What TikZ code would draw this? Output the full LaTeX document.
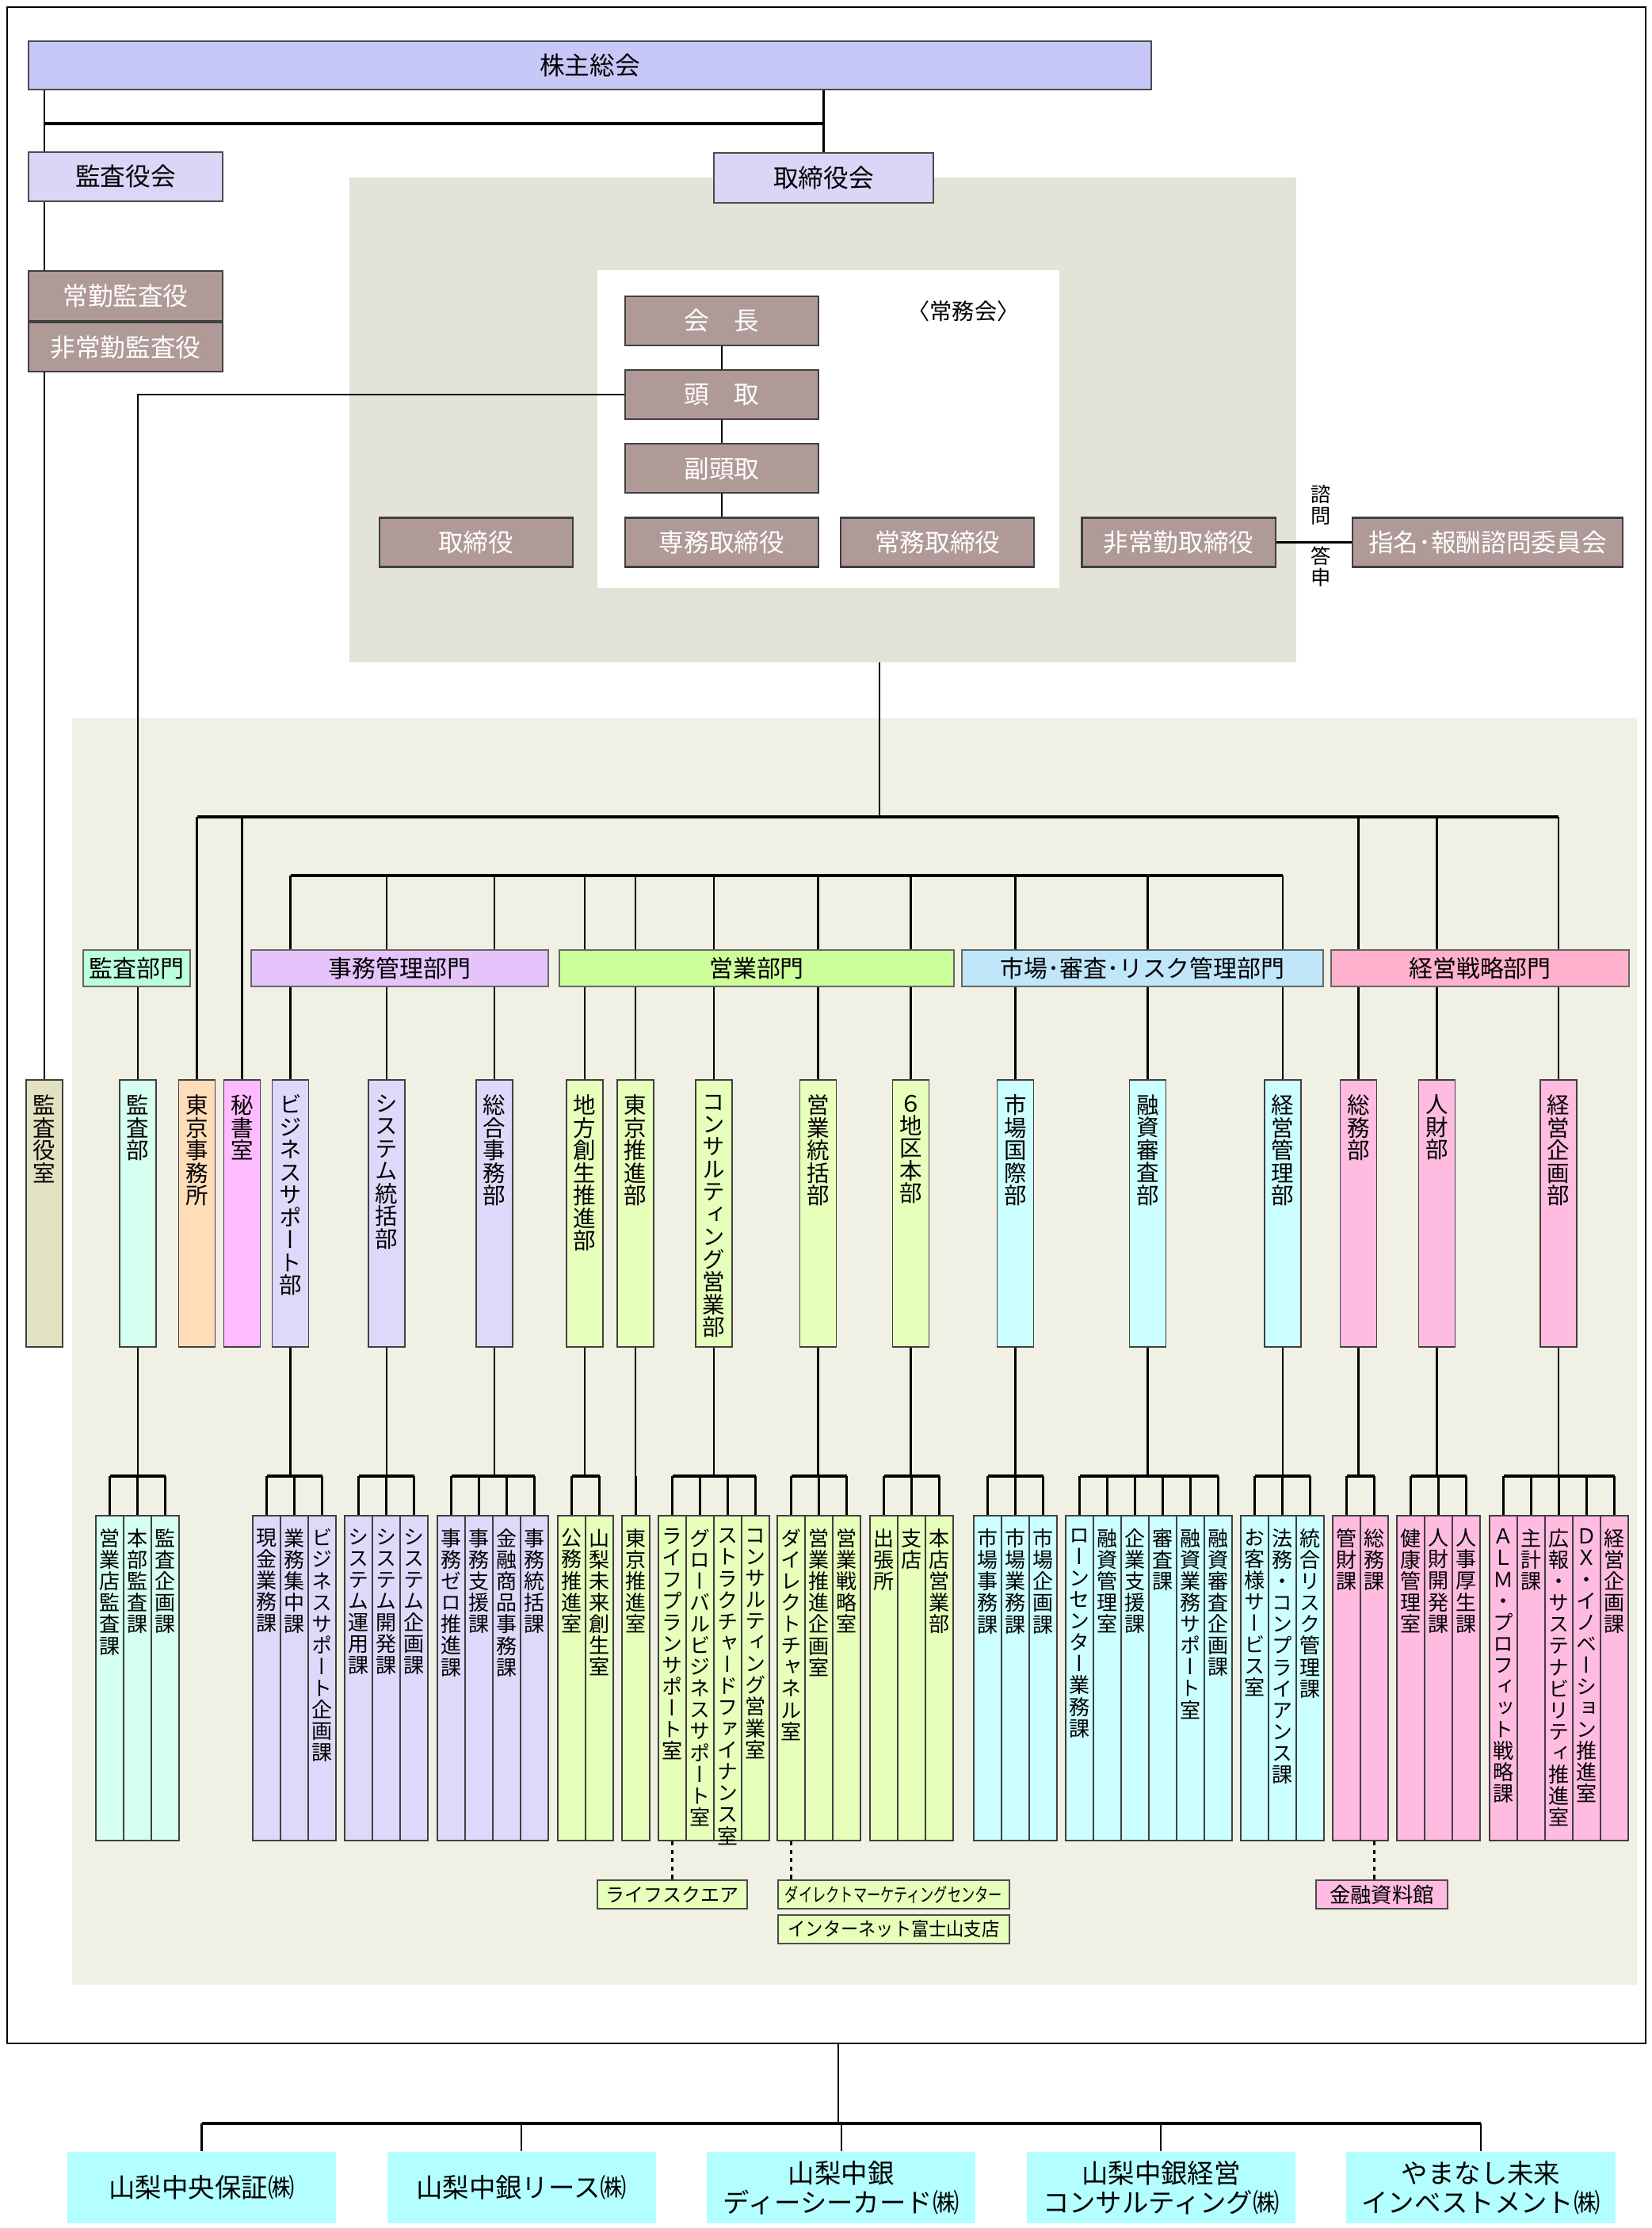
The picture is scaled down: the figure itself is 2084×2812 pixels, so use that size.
\documentclass[tikz,border=0pt]{standalone}
\usepackage{fontspec}
\setmainfont{Noto Sans CJK JP}
\newfontfamily\tatefont[RawFeature=+vert]{Noto Sans CJK JP}
\usetikzlibrary{positioning}

\definecolor{soukai}{HTML}{C8C8F8}
\definecolor{yakukai}{HTML}{DCD5F8}
\definecolor{yakuin}{HTML}{B09A98}
\definecolor{execbg}{HTML}{E3E3D8}
\definecolor{bankbg}{HTML}{F0F0E4}
\definecolor{kansashitsu}{HTML}{E2E2C2}
\definecolor{kansahead}{HTML}{BBFFDD}
\definecolor{kansa}{HTML}{D5FFEE}
\definecolor{tokyo}{HTML}{FFDDB8}
\definecolor{hisho}{HTML}{FFBBFF}
\definecolor{jimuhead}{HTML}{E4C4FA}
\definecolor{jimu}{HTML}{E0D8FA}
\definecolor{eigyohead}{HTML}{CCFF99}
\definecolor{eigyo}{HTML}{E6FFBB}
\definecolor{shijohead}{HTML}{C0E6FA}
\definecolor{shijo}{HTML}{CCFFFF}
\definecolor{senryakuhead}{HTML}{FFB0CC}
\definecolor{senryaku}{HTML}{FFBBE0}
\definecolor{kogai}{HTML}{B3FFFF}

% vertical text: one character per line
\def\tatesplit#1{\ifx#1\relax\else\hbox to 1em{\hss#1\hss}\expandafter\tatesplit\fi}
\newcommand\tate[1]{\edef\tatestr{#1}\vbox{\expandafter\tatesplit\tatestr\relax}}

\begin{document}
\begin{tikzpicture}[
    x=0.01cm, y=-0.01cm,
    line/.style={draw=black, line width=0.6pt},
    bus/.style={draw=black, line width=1.1pt},
    dotline/.style={draw=black, line width=0.6pt, dash pattern=on 1.5pt off 1.5pt},
    kai/.style={rectangle, draw=black!70, line width=0.6pt, inner sep=0pt, font=\fontsize{9}{10}\selectfont},
    yakuin/.style={rectangle, draw=black!75, line width=0.6pt, fill=yakuin, text=white, inner sep=0pt, minimum width=2.44cm, minimum height=0.62cm, font=\fontsize{9}{10}\selectfont},
    bumon/.style={rectangle, draw=black!60, line width=0.5pt, inner sep=0pt, minimum height=0.46cm, font=\fontsize{8.5}{10}\selectfont},
    busho/.style={rectangle, draw=black!75, line width=0.5pt, inner sep=0pt, minimum width=0.46cm, minimum height=3.37cm},
    kabox/.style={rectangle, draw=black!75, line width=0.5pt, inner sep=0pt, minimum width=0.35cm, minimum height=4.10cm},
    tatebu/.style={anchor=north, inner sep=0pt, yshift=-0.19cm, font=\tatefont\fontsize{8.1}{8.1}\selectfont},
    tateka/.style={anchor=north, inner sep=0pt, yshift=-0.17cm, font=\tatefont\fontsize{7.4}{7.7}\selectfont},
    tatesmall/.style={anchor=north, inner sep=0pt, font=\tatefont\fontsize{7.2}{7.6}\selectfont},
    annex/.style={rectangle, draw=black!70, line width=0.5pt, inner sep=0pt, minimum height=0.36cm, font=\fontsize{6.8}{8}\selectfont},
    kogaisha/.style={rectangle, fill=kogai, inner sep=0pt, minimum width=3.39cm, minimum height=0.90cm, align=center, font=\fontsize{9.5}{10.5}\selectfont}
]
\useasboundingbox (0,0) rectangle (2084,2812);

% Frame and areas
\draw[line] (9,9) rectangle (2077,2579);
\fill[execbg] (441,224) rectangle (1636,836);
\fill[white] (754,341) rectangle (1337,742);
\fill[bankbg] (91,906) rectangle (2066,2505);

% Top
\node[kai, fill=soukai, minimum width=14.17cm, minimum height=0.61cm] (soukai) at (744.5,82.5) {株主総会};
\node[kai, fill=yakukai, minimum width=2.45cm, minimum height=0.62cm] (kanyakukai) at (158.5,223) {監査役会};
\node[kai, fill=yakukai, minimum width=2.77cm, minimum height=0.63cm] (torikai) at (1039.5,224.5) {取締役会};
\node[yakuin, minimum width=2.45cm, minimum height=0.63cm] (jokin) at (158.5,373.5) {常勤監査役};
\node[yakuin, minimum width=2.45cm, below=0pt of jokin] (hijokinkansa) {非常勤監査役};

% Executives
\node[yakuin] (kaicho) at (911,405) {会　長};
\node[yakuin, below=0.29cm of kaicho] (todori) {頭　取};
\node[yakuin, below=0.29cm of todori] (fukutodori) {副頭取};
\node[yakuin, below=0.29cm of fukutodori] (senmu) {専務取締役};
\node[yakuin, left=0.64cm of senmu] (torishimari) {取締役};
\node[yakuin, right=0.26cm of senmu] (jomu) {常務取締役};
\node[yakuin, right=0.58cm of jomu] (hijokintori) {非常勤取締役};
\node[yakuin, minimum width=3.41cm, right=0.95cm of hijokintori] (shimei) {指名･報酬諮問委員会};
\node[font=\fontsize{8}{9}\selectfont] (jomukai) at (1216,393) {〈常務会〉};
\node[tatesmall] (shimon) at (1667,612) {\tate{諮問}};
\node[tatesmall] (toshin) at (1667,689) {\tate{答申}};

% Departments
\foreach \dep/\cx/\col/\txt in {kansayaku/56/kansashitsu/監査役室, kansabu/174/kansa/監査部,
    tokyojim/248.5/tokyo/東京事務所, hisho/305.5/hisho/秘書室, bizsup/366.5/jimu/ビジネスサポート部,
    system/488/jimu/システム統括部, sogojim/624/jimu/総合事務部, chiho/738/eigyo/地方創生推進部,
    tokyosui/802/eigyo/東京推進部, consul/901/eigyo/コンサルティング営業部, eigyotokatsu/1032.5/eigyo/営業統括部,
    chiku/1149.5/eigyo/６地区本部, shijo/1281.5/shijo/市場国際部, yushi/1448.5/shijo/融資審査部,
    keiei/1619/shijo/経営管理部, somu/1714.5/senryaku/総務部, jinzai/1813.5/senryaku/人財部,
    kikaku/1967/senryaku/経営企画部}
    \node[busho, fill=\col, label={[tatebu]north:{\tate{\txt}}}] (\dep) at (\cx,1531.5) {};

% Sections under each department
\coordinate (kabar) at (0,1863);
\foreach \dep/\xa/\n/\col/\kas in {
    kansabu/121/3/kansa/{営業店監査課,本部監査課,監査企画課},
    bizsup/319/3/jimu/{現金業務課,業務集中課,ビジネスサポート企画課},
    system/435/3/jimu/{システム運用課,システム開発課,システム企画課},
    sogojim/552/4/jimu/{事務ゼロ推進課,事務支援課,金融商品事務課,事務統括課},
    chiho/704/2/eigyo/{公務推進室,山梨未来創生室},
    tokyosui/785/1/eigyo/{東京推進室},
    consul/831/4/eigyo/{ライフプランサポート室,グローバルビジネスサポート室,ストラクチャードファイナンス室,コンサルティング営業室},
    eigyotokatsu/981/3/eigyo/{ダイレクトチャネル室,営業推進企画室,営業戦略室},
    chiku/1098/3/eigyo/{出張所,支店,本店営業部},
    shijo/1229/3/shijo/{市場事務課,市場業務課,市場企画課},
    yushi/1345/6/shijo/{ローンセンター業務課,融資管理室,企業支援課,審査課,融資業務サポート室,融資審査企画課},
    keiei/1566/3/shijo/{お客様サービス室,法務・コンプライアンス課,統合リスク管理課},
    somu/1682/2/senryaku/{管財課,総務課},
    jinzai/1763/3/senryaku/{健康管理室,人財開発課,人事厚生課},
    kikaku/1880/5/senryaku/{ＡＬＭ・プロフィット戦略課,主計課,広報・サステナビリティ推進室,ＤＸ・イノベーション推進室,経営企画課}}
{
    \foreach \txt [count=\i] in \kas
        \node[kabox, fill=\col, label={[tateka]north:{\tate{\txt}}}] (\dep-\i) at ({\xa+(\i-0.5)*35},2118) {};
    \draw[line] (\dep.south) -- (\dep.south |- kabar);
    \draw[bus] (\dep-1.north |- kabar) -- (\dep-\n.north |- kabar);
    \foreach \i in {1,...,\n}
        \draw[line] (\dep-\i.north |- kabar) -- (\dep-\i.north);
}

% Annexes
\node[annex, fill=eigyo, minimum width=1.89cm] (lifesq) at (848.5,2391) {ライフスクエア};
\node[annex, fill=eigyo, minimum width=2.92cm] (dmc) at (1128,2391) {\scalebox{0.72}[1]{ダイレクトマーケティングセンター}};
\node[annex, fill=eigyo, minimum width=2.92cm, below=0.06cm of dmc] (fujisan) {\scalebox{0.93}[1]{インターネット富士山支店}};
\node[annex, fill=senryaku, minimum width=1.66cm, font=\fontsize{7.5}{8}\selectfont] (kinyu) at (1744,2391) {金融資料館};
\draw[dotline] (consul-1.south) -- (consul-1.south |- lifesq.north);
\draw[dotline] (eigyotokatsu-1.south) -- (eigyotokatsu-1.south |- dmc.north);
\draw[dotline] (somu-2.south) -- (somu-2.south |- kinyu.north);

% Connectors
\coordinate (toprail) at (0,156);
\coordinate (bus1) at (0,1031);
\coordinate (bus2) at (0,1105);
\coordinate (execfoot) at (1110,836);
\draw[line] (kansayaku |- soukai.south) -- (kansayaku |- kanyakukai.north);
\draw[line] (torikai.north |- soukai.south) -- (torikai.north);
\draw[bus] (kansayaku |- toprail) -- (torikai.north |- toprail);
\draw[line] (kansayaku |- kanyakukai.south) -- (kansayaku |- jokin.north);
\draw[line] (kansayaku |- hijokinkansa.south) -- (kansayaku.north);
\draw[line] (kaicho) -- (todori);
\draw[line] (todori) -- (fukutodori);
\draw[line] (fukutodori) -- (senmu);
\draw[line] (hijokintori) -- (shimei);
\draw[line] (todori.west) -| (kansabu.north);
\draw[line] (execfoot) -- (execfoot |- bus1);
\draw[bus] (tokyojim.north |- bus1) -- (kikaku.north |- bus1);
\foreach \dep in {tokyojim,hisho,somu,jinzai,kikaku}
    \draw[line] (\dep.north |- bus1) -- (\dep.north);
\draw[bus] (bizsup.north |- bus2) -- (keiei.north |- bus2);
\foreach \dep in {bizsup,system,sogojim,chiho,tokyosui,consul,eigyotokatsu,chiku,shijo,yushi,keiei}
    \draw[line] (\dep.north |- bus2) -- (\dep.north);

% Divisions
\node[bumon, fill=kansahead, minimum width=1.35cm] (kansabumon) at (172.5,1222) {監査部門};
\node[bumon, fill=jimuhead, minimum width=3.75cm] (jimubumon) at (504.5,1222) {事務管理部門};
\node[bumon, fill=eigyohead, minimum width=4.98cm] (eigyobumon) at (955,1222) {営業部門};
\node[bumon, fill=shijohead, minimum width=4.56cm] (shijobumon) at (1442,1222) {市場･審査･リスク管理部門};
\node[bumon, fill=senryakuhead, minimum width=3.76cm] (senryakubumon) at (1868,1222) {経営戦略部門};

% Group companies
\node[kogaisha] (hosho) at (254.5,2761) {山梨中央保証㈱};
\node[kogaisha, right=0.63cm of hosho] (lease) {山梨中銀リース㈱};
\node[kogaisha, right=0.63cm of lease] (dc) {山梨中銀\\ディーシーカード㈱};
\node[kogaisha, right=0.63cm of dc] (consulting) {山梨中銀経営\\コンサルティング㈱};
\node[kogaisha, right=0.63cm of consulting] (invest) {やまなし未来\\インベストメント㈱};
\coordinate (bankfoot) at (1058,2579);
\coordinate (korail) at (0,2680);
\draw[line] (bankfoot) -- (bankfoot |- korail);
\draw[bus] (hosho.north |- korail) -- (invest.north |- korail);
\foreach \k in {hosho,lease,dc,consulting,invest}
    \draw[line] (\k.north |- korail) -- (\k.north);
\end{tikzpicture}
\end{document}
